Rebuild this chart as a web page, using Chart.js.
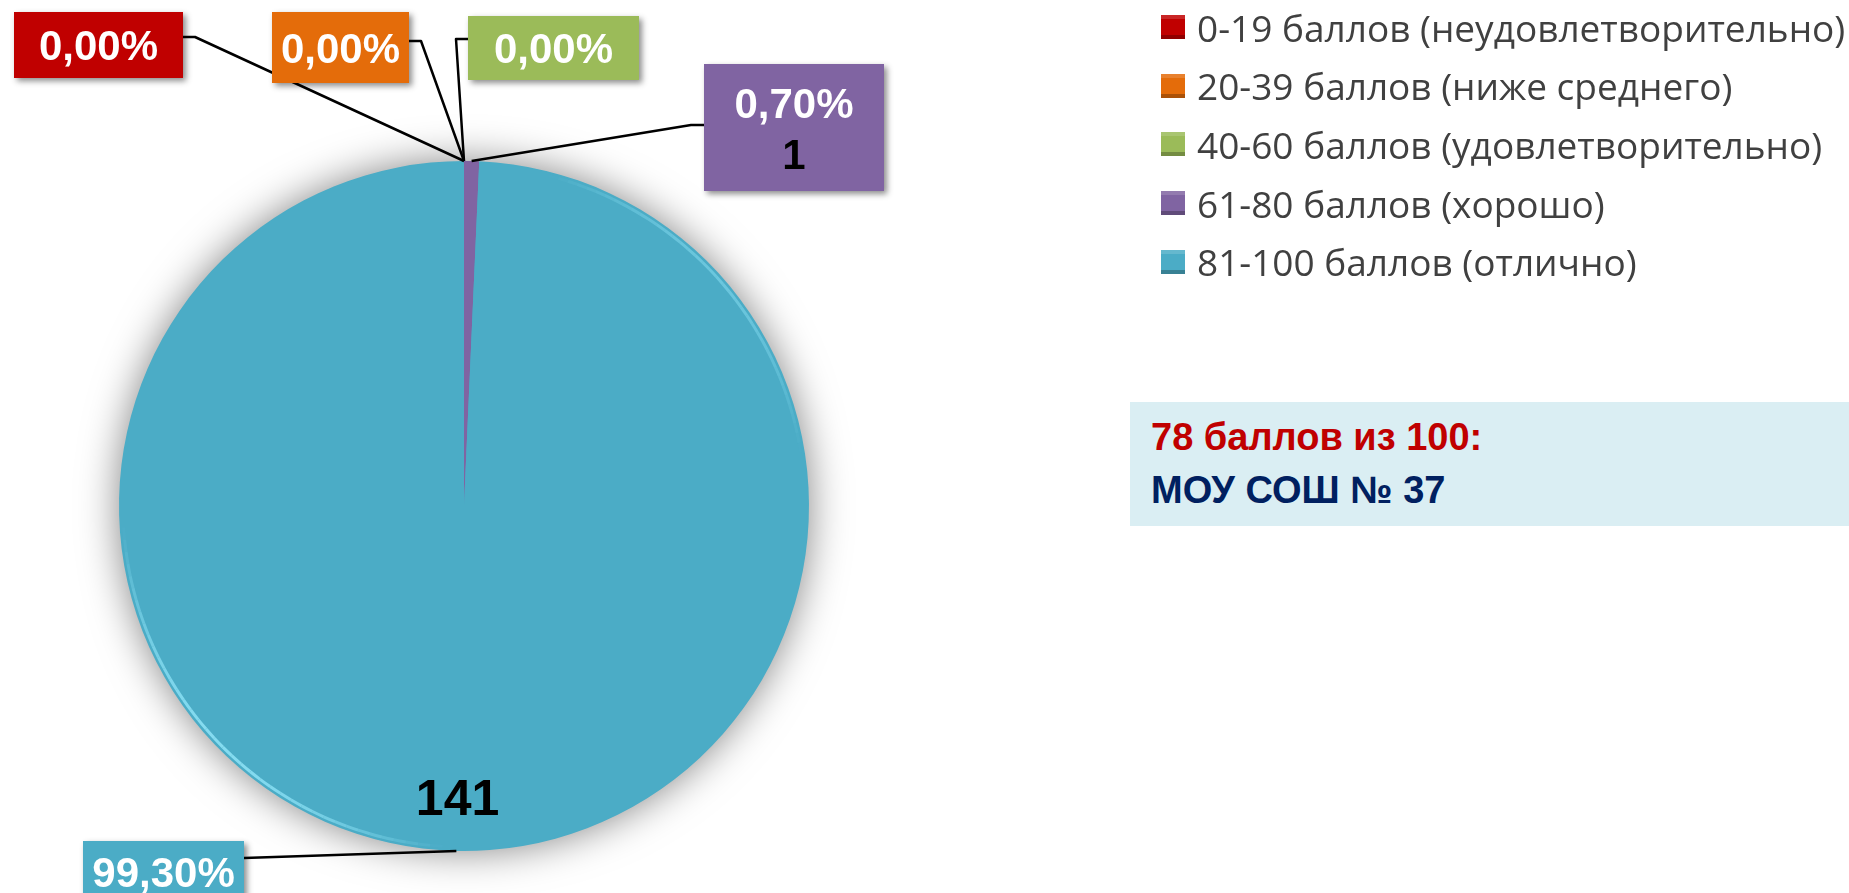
<!DOCTYPE html>
<html lang="ru">
<head>
<meta charset="utf-8">
<title>Результаты: 78 баллов из 100</title>
<script src="https://cdn.jsdelivr.net/npm/chart.js@4.4.1/dist/chart.umd.min.js"></script>
<style>
  html, body { margin: 0; padding: 0; background: #fff; }
  #wrap { position: relative; width: 1849px; height: 893px; overflow: hidden; }
  #chart { position: absolute; left: 0; top: 0; }
  #legend { position: absolute; left: 1161px; top: -2px; font-family: "Open Sans", sans-serif; font-size: 37px; color: #404040; }
  .leg-row { display: flex; align-items: center; height: 58.6px; white-space: nowrap; }
  .leg-box { width: 24px; height: 24px; margin-right: 12px;
             box-shadow: inset 0 -4px 0 rgba(0,0,0,0.25), inset 0 4px 0 rgba(255,255,255,0.15); }
  #info { position: absolute; left: 1130px; top: 402px; width: 719px; height: 124px; background: #DAEEF3;
          box-sizing: border-box; padding: 9px 0 0 21px; font-family: "Liberation Sans", Arial, sans-serif;
          font-weight: bold; font-size: 38px; line-height: 53px; }
  #info .l1 { color: #C00000; }
  #info .l2 { color: #002060; }
</style>
</head>
<body>
<div id="wrap">
  <canvas id="chart" width="1849" height="893"></canvas>
  <div id="legend"></div>
  <div id="info">
    <div class="l1">78 баллов из 100:</div>
    <div class="l2">МОУ СОШ № 37</div>
  </div>
</div>
<script>
// Données
const categories = [
  '0-19 баллов (неудовлетворительно)',
  '20-39 баллов (ниже среднего)',
  '40-60 баллов (удовлетворительно)',
  '61-80 баллов (хорошо)',
  '81-100 баллов (отлично)'
];
const counts = [0, 0, 0, 1, 141];
const colors = ['#C00000', '#E46C0A', '#9BBB59', '#8064A2', '#4BACC6'];

// étiquettes : boîte [x, y, w, h], départ de la ligne de rappel et coude
const callouts = [
  { box: [14, 12, 169, 66],   from: [183, 37],  elbow: [195, 37] },
  { box: [272, 12, 137, 71],  from: [409, 41],  elbow: [421, 41] },
  { box: [468, 16, 171, 64],  from: [468, 39],  elbow: [456, 39] },
  { box: [704, 64, 180, 127], from: [704, 125], elbow: [691, 125], showValue: true },
  { box: [83, 841, 161, 62],  from: [244, 858], elbow: null }
];

const total = counts.reduce((a, b) => a + b, 0);
function pct(v) {
  return (v / total * 100).toFixed(2).replace('.', ',') + '%';
}

// ombre + reflet du camembert
const pieShadow = {
  id: 'pieShadow',
  beforeDatasetsDraw(chart) {
    const arc = chart.getDatasetMeta(0).data[0];
    if (!arc) return;
    const ctx = chart.ctx;
    ctx.save();
    ctx.shadowColor = 'rgba(0,0,0,0.5)';
    ctx.shadowBlur = 40;
    ctx.fillStyle = colors[4];
    ctx.beginPath();
    ctx.arc(arc.x, arc.y, arc.outerRadius - 1, 0, Math.PI * 2);
    ctx.fill();
    ctx.restore();
  },
  afterDatasetsDraw(chart) {
    const arc = chart.getDatasetMeta(0).data[0];
    const ctx = chart.ctx;
    // petit reflet clair sur le bord (effet relief)
    function rim(a0, a1, alpha) {
      const steps = 40;
      for (let k = 0; k < steps; k++) {
        const t = (k + 0.5) / steps;
        ctx.strokeStyle = 'rgba(140,225,245,' + (alpha * Math.sin(Math.PI * t)).toFixed(3) + ')';
        ctx.lineWidth = 3;
        ctx.beginPath();
        const a = a0 + (a1 - a0) * k / steps;
        const b = a0 + (a1 - a0) * (k + 1) / steps;
        ctx.arc(arc.x, arc.y, arc.outerRadius - 4, a, b);
        ctx.stroke();
      }
    }
    ctx.save();
    rim(Math.PI * 0.52, Math.PI * 0.98, 0.9);
    rim(-Math.PI * 0.42, -Math.PI * 0.05, 0.5);
    ctx.restore();
  }
};

// étiquettes avec boîtes colorées et lignes de rappel
const calloutLabels = {
  id: 'calloutLabels',
  afterDatasetsDraw(chart) {
    const ctx = chart.ctx;
    const arcs = chart.getDatasetMeta(0).data;
    ctx.save();
    arcs.forEach((arc, i) => {
      const c = callouts[i];
      const mid = (arc.startAngle + arc.endAngle) / 2;
      const ax = arc.x + Math.cos(mid) * arc.outerRadius;
      const ay = arc.y + Math.sin(mid) * arc.outerRadius;

      // ligne de rappel
      ctx.strokeStyle = '#000';
      ctx.lineWidth = 2.5;
      ctx.lineJoin = 'round';
      ctx.beginPath();
      ctx.moveTo(c.from[0], c.from[1]);
      if (c.elbow) ctx.lineTo(c.elbow[0], c.elbow[1]);
      ctx.lineTo(ax, ay);
      ctx.stroke();

      // boîte
      const [bx, by, bw, bh] = c.box;
      ctx.save();
      ctx.shadowColor = 'rgba(0,0,0,0.45)';
      ctx.shadowBlur = 6;
      ctx.shadowOffsetX = 3;
      ctx.shadowOffsetY = 3;
      ctx.fillStyle = colors[i];
      ctx.fillRect(bx, by, bw, bh);
      ctx.restore();

      // texte
      ctx.textAlign = 'center';
      ctx.textBaseline = 'alphabetic';
      ctx.font = 'bold 42px "Liberation Sans", Arial, sans-serif';
      ctx.fillStyle = '#fff';
      const cx = bx + bw / 2;
      if (c.showValue) {
        ctx.fillText(pct(counts[i]), cx, by + 39 + 0.358 * 42);
        ctx.fillStyle = '#000';
        ctx.fillText(String(counts[i]), cx, by + 90 + 0.358 * 42);
      } else {
        ctx.fillText(pct(counts[i]), cx, by + bh / 2 + 0.358 * 42);
      }
    });

    // valeur dans la grande part
    const big = arcs[4];
    const m = (big.startAngle + big.endAngle) / 2;
    ctx.font = 'bold 50px "Liberation Sans", Arial, sans-serif';
    ctx.fillStyle = '#000';
    ctx.textAlign = 'center';
    ctx.fillText(String(counts[4]), big.x + Math.cos(m) * big.outerRadius * 0.845,
                 big.y + Math.sin(m) * big.outerRadius * 0.845 + 0.358 * 50);
    ctx.restore();
  }
};

const chart = new Chart(document.getElementById('chart'), {
  type: 'pie',
  data: {
    labels: categories,
    datasets: [{
      data: counts,
      backgroundColor: colors,
      borderWidth: 0
    }]
  },
  options: {
    responsive: false,
    animation: false,
    layout: { padding: { left: 119, top: 161, right: 1040, bottom: 42 } },
    plugins: {
      legend: { display: false },
      tooltip: { enabled: false }
    }
  },
  plugins: [pieShadow, calloutLabels]
});

// légende HTML construite à partir du graphique
const legendEl = document.getElementById('legend');
const items = chart.options.plugins.legend.labels.generateLabels(chart);
items.forEach(it => {
  const row = document.createElement('div');
  row.className = 'leg-row';
  const box = document.createElement('span');
  box.className = 'leg-box';
  box.style.background = it.fillStyle;
  const txt = document.createElement('span');
  txt.textContent = it.text;
  row.appendChild(box);
  row.appendChild(txt);
  legendEl.appendChild(row);
});
</script>
</body>
</html>
